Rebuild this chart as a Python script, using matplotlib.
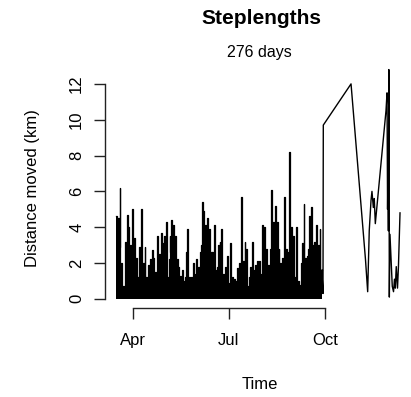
import numpy as np
import matplotlib
matplotlib.use("Agg")
import matplotlib.pyplot as plt
import matplotlib.dates as mdates
import datetime as dt

plt.rcParams['font.family'] = ['Liberation Sans', 'DejaVu Sans']

title = "Steplengths"
subtitle = "276 days"
x_label = "Time"
y_label = "Distance moved (km)"
y_ticks = [0, 2, 4, 6, 8, 10, 12]
x_tick_labels = ["Apr", "Jul", "Oct"]
x_tick_dates = [dt.datetime(2013, 4, 1), dt.datetime(2013, 7, 1), dt.datetime(2013, 10, 1)]
base_date = dt.datetime(2013, 4, 1)

# dense period (days relative to 1 April)
dense_start_day = -16.3
dense_end_day = 180.0
dense_peaks = [
    4.6, 4.5, 6.2, 2.0, 0.7, 3.2, 4.7, 4.0, 3.0, 5.0,
    3.4, 2.3, 1.2, 2.9, 5.0, 2.0, 2.9, 1.2, 1.9, 2.2,
    2.7, 2.3, 1.5, 3.5, 2.5, 3.7, 3.1, 3.5, 4.3, 1.2,
    3.5, 4.4, 4.1, 3.5, 2.2, 1.8, 1.3, 1.6, 1.0, 2.6,
    3.9, 1.2, 1.2, 2.0, 1.4, 2.2, 1.8, 2.6, 5.4, 4.9,
    4.1, 4.5, 3.9, 2.6, 2.6, 4.1, 1.6, 3.0, 3.2, 3.9,
    1.4, 1.8, 2.4, 0.9, 3.1, 1.2, 1.1, 1.0, 1.7, 2.0,
    5.7, 2.1, 3.2, 2.8, 0.7, 1.8, 3.2, 1.6, 1.9, 2.1,
    2.1, 1.4, 4.1, 4.0, 2.8, 1.9, 1.8, 6.1, 4.3, 5.2,
    4.3, 2.8, 2.0, 2.3, 5.7, 2.8, 1.5, 8.2, 4.0, 3.5,
    1.2, 4.0, 1.0, 0.8, 3.1, 5.3, 2.3, 2.4, 4.6, 5.1,
    3.0, 3.2, 4.1, 3.0, 3.9, 1.6,
]
dense_troughs = [
    2.8, 2.9, 1.8, 0.5, 0.4, 2.0, 2.6, 2.2, 2.0,
    2.2, 1.5, 0.8, 0.9, 1.6, 1.4, 1.2, 0.8, 0.8, 1.2,
    1.4, 1.3, 0.9, 1.0, 1.5, 1.8, 2.0, 2.0, 0.8, 0.8,
    2.2, 2.6, 2.5, 1.5, 1.1, 0.9, 0.8, 0.7, 0.6, 1.2,
    0.9, 0.7, 0.8, 0.9, 0.9, 1.2, 1.2, 1.8, 3.0, 2.8,
    2.8, 2.6, 1.8, 1.6, 1.6, 1.1, 1.0, 1.8, 2.0, 1.0,
    0.9, 1.2, 0.6, 0.6, 0.8, 0.7, 0.6, 0.8, 1.0, 1.4,
    1.4, 1.6, 1.6, 0.5, 0.5, 1.2, 1.1, 1.0, 1.3, 1.3,
    1.0, 1.0, 2.6, 1.9, 1.3, 1.2, 1.4, 2.8, 3.0, 2.9,
    2.0, 1.4, 1.4, 1.5, 1.9, 1.0, 1.0, 2.6, 2.5, 0.8,
    0.8, 0.7, 0.6, 0.6, 2.0, 1.6, 1.5, 1.6, 2.8, 2.0,
    2.0, 2.2, 2.0, 2.0, 1.1, 1.0,
]

# sparse period
sparse_days = [181.1, 181.4, 207.9, 221.7, 223.8, 225.3, 227.0, 227.9, 229.2,
               230.1, 231.1, 241.3, 242.3, 242.8, 243.2, 243.6, 244.0, 244.5,
               245.1, 247.3, 248.5, 249.4, 250.2, 251.1, 252.3, 253.2, 254.7]
sparse_values = [0.3, 9.7, 12.0, 2.2, 0.4, 3.8, 5.5, 6.0, 5.1,
                 5.6, 4.2, 10.5, 11.5, 5.0, 7.2, 3.8, 12.8, 0.1,
                 3.6, 0.7, 0.4, 1.1, 0.6, 1.8, 0.6, 1.8, 4.8]

# build dense series: peaks interleaved with troughs
n = min(len(dense_peaks) - 1, len(dense_troughs))
peak_days = np.linspace(dense_start_day, dense_end_day, n + 1)
d_days, d_vals = [], []
for i in range(n + 1):
    d_days.append(peak_days[i]); d_vals.append(dense_peaks[i])
    if i < n:
        d_days.append(0.5 * (peak_days[i] + peak_days[i + 1])); d_vals.append(dense_troughs[i])

base = mdates.date2num(base_date)
t_dense = base + np.array(d_days)
v_dense = np.array(d_vals)
t_sparse = base + np.array(sparse_days)
v_sparse = np.array(sparse_values)

W, H = 411, 397
fig = plt.figure(figsize=(W / 100, H / 100), dpi=100)
ax = fig.add_axes([105 / W, 1 - 308 / H, (411 - 105) / W, (308 - 60.6) / H])

ax.fill_between(t_dense, 0, v_dense, color='black', lw=0, step='mid')
ax.plot(t_dense, v_dense, color='black', lw=0.9, drawstyle='steps-mid')
ax.plot(np.concatenate([t_dense[-1:], t_sparse]), np.concatenate([v_dense[-1:], v_sparse]),
        color='black', lw=1.0)

ax.set_xlim(base - 27.2, base + 265.2)
ax.set_ylim(-0.51, 13.3)

for s in ['top', 'right']:
    ax.spines[s].set_visible(False)
ax.spines['left'].set_bounds(0, 12)
ax.spines['bottom'].set_bounds(mdates.date2num(x_tick_dates[0]), mdates.date2num(x_tick_dates[-1]))
for s in ['left', 'bottom']:
    ax.spines[s].set_linewidth(1.0)
    ax.spines[s].set_color('#222222')

ax.set_yticks(y_ticks)
ax.set_yticklabels([str(v) for v in y_ticks], rotation=90, va='center')
ax.set_xticks([mdates.date2num(d) for d in x_tick_dates])
ax.set_xticklabels(x_tick_labels)
ax.tick_params(axis='both', length=8, width=1.0, color='#222222', labelsize=12)
ax.tick_params(axis='y', pad=7)
ax.tick_params(axis='x', pad=10)

fig.text(261 / W, 1 - 24.5 / H, title, ha='center', va='baseline', fontsize=15, fontweight='bold')
fig.text(259 / W, 1 - 56.7 / H, subtitle, ha='center', va='baseline', fontsize=11.5)
fig.text(260 / W, 1 - 389 / H, x_label, ha='center', va='baseline', fontsize=12)
fig.text(33 / W, 1 - 188 / H, y_label, ha='center', va='center', rotation=90, fontsize=12)

fig.savefig("out.png", dpi=100)
